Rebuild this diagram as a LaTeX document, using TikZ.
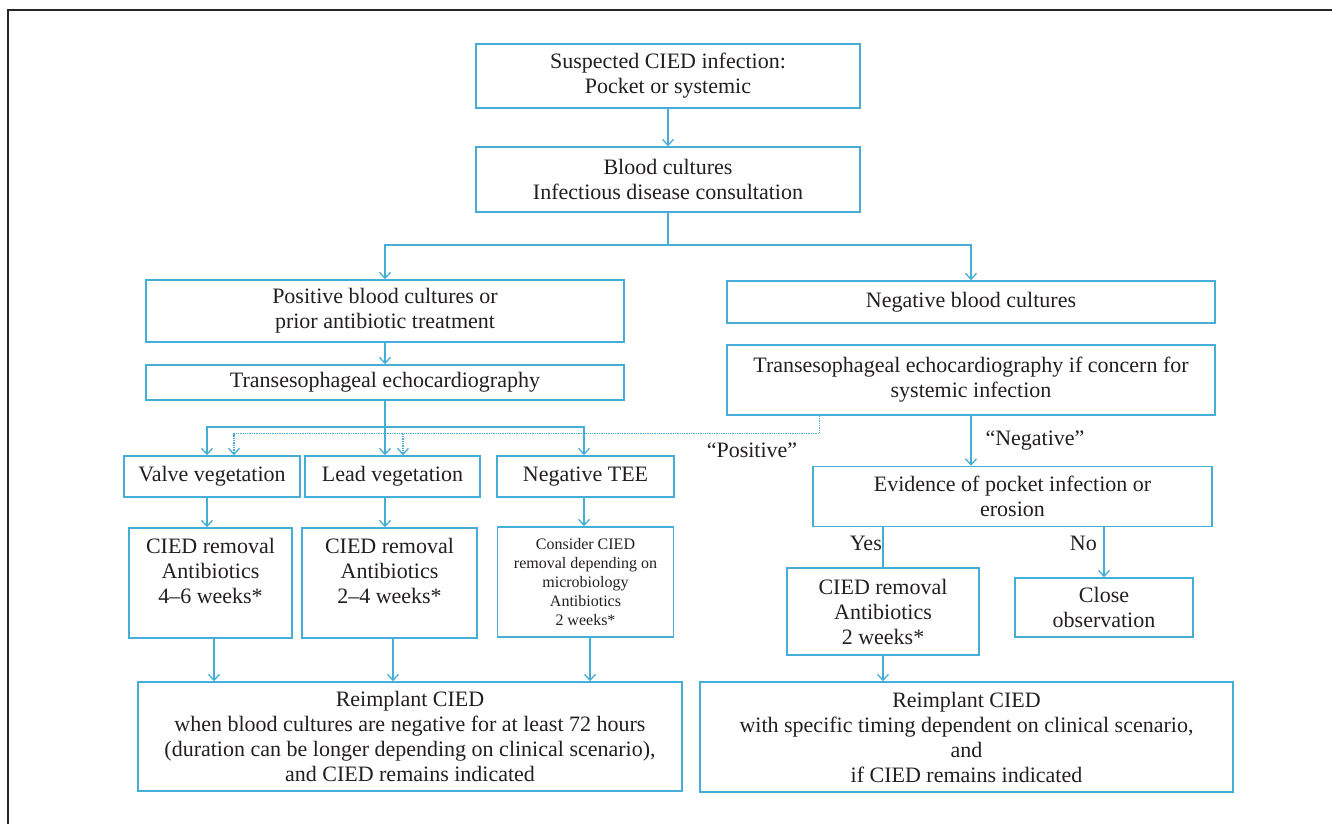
\documentclass[tikz,border=0pt]{standalone}
\usepackage{fontspec}
\setmainfont{Liberation Serif}
\usetikzlibrary{arrows.meta,calc}
\definecolor{lb}{RGB}{70,174,214}
\definecolor{tx}{RGB}{35,31,32}
\begin{document}
\begin{tikzpicture}[x=1pt,y=-1pt,
  box/.style={draw=lb,line width=1.5pt,inner sep=0pt,align=center,text=tx,font=\fontsize{22}{25}\selectfont},
  smallbox/.style={box,font=\fontsize{16}{19}\selectfont},
  conn/.style={draw=lb,line width=1.3pt},
  arr/.style={conn,-{Straight Barb[length=6pt,width=11pt]}},
  dotarr/.style={arr,densely dotted},
  lbl/.style={text=tx,font=\fontsize{22}{25}\selectfont,inner sep=0pt}]
\useasboundingbox (0,0) rectangle (1332,824);
\fill[white] (0,0) rectangle (1332,824);
\draw[line width=2pt,color=black!85] (8,824) -- (8,10) -- (1332,10);

% top
\node[box,minimum width=384pt,minimum height=64pt] (A) at (668,76) {Suspected CIED infection:\\Pocket or systemic};
\node[box,minimum width=384pt,minimum height=65pt] (B) at (668,179.5) {Blood cultures\\Infectious disease consultation};
% left branch
\node[box,minimum width=478pt,minimum height=62pt] (C) at (385,311) {Positive blood cultures or\\prior antibiotic treatment};
\node[box,minimum width=478pt,minimum height=35pt] (E) at (385,382.5) {Transesophageal echocardiography};
% right branch
\node[box,minimum width=488pt,minimum height=42pt] (D) at (971,302) {Negative blood cultures};
\node[box,minimum width=488pt,minimum height=70pt] (F) at (971,380) {Transesophageal echocardiography if concern for\\systemic infection};
% TEE results
\node[box,minimum width=176pt,minimum height=41pt] (V) at (212,476.5) {Valve vegetation};
\node[box,minimum width=175pt,minimum height=41pt] (Ld) at (392.5,476.5) {Lead vegetation};
\node[box,minimum width=177pt,minimum height=41pt] (N) at (585.5,476.5) {Negative TEE};
% treatments
\node[box,minimum width=163pt,minimum height=110pt] (K1) at (210.5,583) {CIED removal\\Antibiotics\\4–6 weeks*\\\mbox{}};
\node[box,minimum width=175pt,minimum height=110pt] (K2) at (389.5,583) {CIED removal\\Antibiotics\\2–4 weeks*\\\mbox{}};
\node[smallbox,minimum width=176pt,minimum height=110pt] (K3) at (585.5,582) {Consider CIED\\removal depending on\\microbiology\\Antibiotics\\2 weeks*};
\node[box,minimum width=544pt,minimum height=109pt] (L) at (410,736.5) {Reimplant CIED\\when blood cultures are negative for at least 72 hours\\(duration can be longer depending on clinical scenario),\\and CIED remains indicated};
% right lower
\node[box,minimum width=399pt,minimum height=60pt] (G) at (1012.5,496.5) {Evidence of pocket infection or\\erosion};
\node[box,minimum width=192pt,minimum height=87pt] (H) at (883,611.5) {CIED removal\\Antibiotics\\2 weeks*};
\node[box,minimum width=178pt,minimum height=59pt] (I) at (1104,607.5) {Close\\observation};
\node[box,minimum width=533pt,minimum height=110pt] (J) at (966.5,737) {Reimplant CIED\\with specific timing dependent on clinical scenario,\\and\\if CIED remains indicated};

% connectors
\draw[arr] (A.south) -- (B.north);
\coordinate (j1) at (668,245);
\draw[conn] (B.south) -- (j1);
\draw[arr] (j1) -| (C.north);
\draw[arr] (j1) -| (D.north);
\draw[arr] (C.south) -- (E.north);
\coordinate (j2) at (385,427);
\draw[arr] (E.south) -- (E.south |- Ld.north);
\draw[arr] (j2) -| ([xshift=-5pt]V.north);
\draw[arr] (j2) -| ([xshift=-1.5pt]N.north);
\coordinate (fp) at ($(F.south west)+(93,0)$);
\coordinate (j3) at ($(fp)+(0,18)$);
\draw[dotarr] (fp) -- (j3) -| ([xshift=22pt]V.north);
\draw[dotarr] ([xshift=10.5pt]Ld.north |- j3) -- ([xshift=10.5pt]Ld.north);
\node[lbl] (pos) at (752,450) {“Positive”};
\draw[arr] ([xshift=-5pt]V.south) -- ([xshift=-5pt]V.south |- K1.north);
\draw[arr] ([xshift=-7.5pt]Ld.south) -- ([xshift=-7.5pt]Ld.south |- K2.north);
\draw[arr] ([xshift=-1.5pt]N.south) -- ([xshift=-1.5pt]N.south |- K3.north);
\draw[arr] ([xshift=3.5pt]K1.south) -- ([xshift=3.5pt]K1.south |- L.north);
\draw[arr] ([xshift=3.5pt]K2.south) -- ([xshift=3.5pt]K2.south |- L.north);
\draw[arr] ([xshift=4.5pt]K3.south) -- ([xshift=4.5pt]K3.south |- L.north);

\draw[arr] (F.south) -- (F.south |- G.north);
\node[lbl] (neg) at (1035,441) {“Negative”};
\draw[conn] (G.south -| H.north) -- (H.north);
\draw[arr] (G.south -| I.north) -- (I.north);
\node[lbl,anchor=east] (yes) at (882,543) {Yes};
\node[lbl,anchor=east] (no) at (1097,543) {No};
\draw[arr] (H.south) -- (H.south |- J.north);
\end{tikzpicture}
\end{document}
